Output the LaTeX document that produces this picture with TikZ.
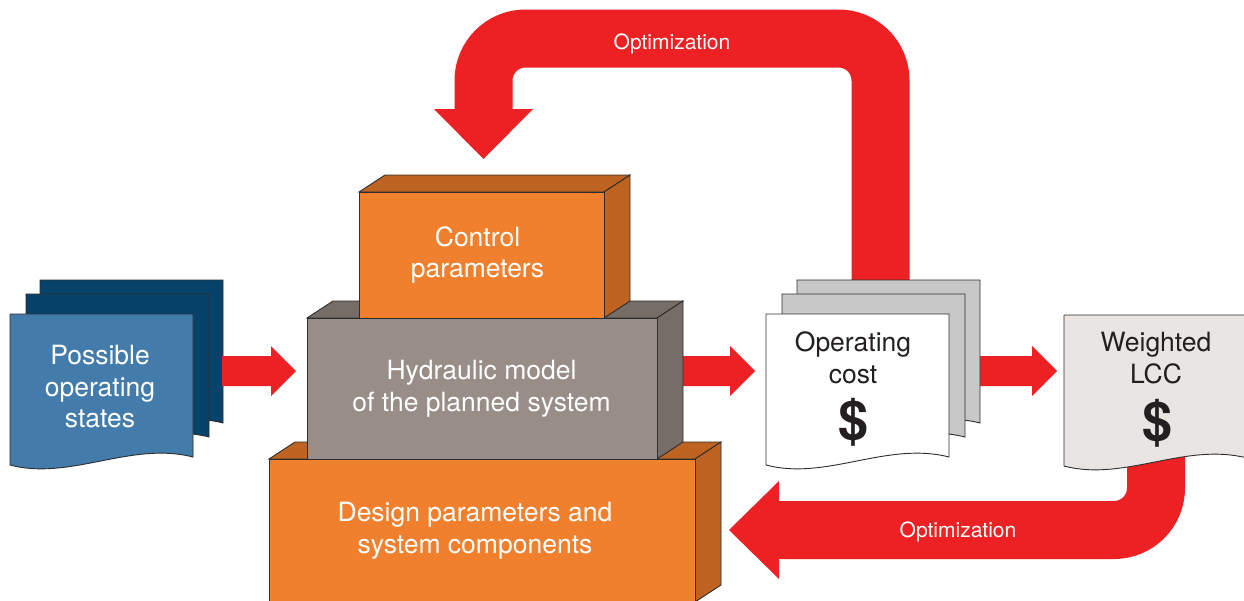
\documentclass[tikz,border=0pt]{standalone}
\usepackage{fontspec}
\setmainfont{TeX Gyre Heros}
\usetikzlibrary{calc}

\definecolor{arrowred}{HTML}{ED2024}
\definecolor{orangefront}{HTML}{F0802D}
\definecolor{orangeside}{HTML}{BE6322}
\definecolor{grayfront}{HTML}{988E87}
\definecolor{grayside}{HTML}{766D67}
\definecolor{bluefront}{HTML}{437BAA}
\definecolor{blueback}{HTML}{07426A}
\definecolor{sheetgray}{HTML}{C8C8C9}
\definecolor{lccsheet}{HTML}{E8E5E3}
\definecolor{edge}{HTML}{2E2E2E}
\definecolor{ink}{HTML}{231F20}

% 3-D block: front face (x1,y1)-(x2,y2), top and side faces set back by (26,-17)
\newcommand\solidblock[6]{%
  \filldraw[fill=#6, blockedge] (#1,#2) -- (#1+26,#2-17) -- (#3+26,#2-17) -- (#3,#2) -- cycle;
  \filldraw[fill=#6, blockedge] (#3,#2) -- (#3+26,#2-17) -- (#3+26,#4-17) -- (#3,#4) -- cycle;
  \filldraw[fill=#5, blockedge] (#1,#2) rectangle (#3,#4);}

% sheet of paper with a wavy lower edge, top left corner at (x,y)
\newcommand\docsheet[3]{%
  \filldraw[fill=#3, sheetedge] (#1,#2) -- (#1+183,#2) -- (#1+183,#2+143)
    .. controls (#1+121,#2+127) and (#1+60,#2+167) .. (#1,#2+151) -- cycle;}

% broad red arrow pointing right, from one named coordinate to another
\newcommand\blockarrow[2]{%
  \fill[arrowred] let \p1=(#1), \p2=(#2) in
    (\x1,\y1+15pt) -- (\x2-25pt,\y1+15pt) -- (\x2-25pt,\y1+25pt) -- (\x2,\y1)
    -- (\x2-25pt,\y1-25pt) -- (\x2-25pt,\y1-15pt) -- (\x1,\y1-15pt) -- cycle;}

\begin{document}
\begin{tikzpicture}[x=1pt,y=-1pt,
    blockedge/.style={draw=edge, line width=0.9pt, line join=miter},
    sheetedge/.style={draw=edge, line width=0.9pt},
    loopband/.style={draw=arrowred, line width=58pt, rounded corners=42pt},
    lbl/.style={font=\fontsize{26.5}{31.5}\selectfont, align=center, anchor=base, inner sep=0pt},
    dollar/.style={font=\fontsize{54}{54}\selectfont\bfseries, text=ink, inner sep=0pt},
    opt/.style={font=\fontsize{21}{25}\selectfont, text=white, anchor=base, inner sep=0pt}]
\useasboundingbox (0,0) rectangle (1244,600);
\clip (0,0) rectangle (1244,600);

% connector end points
\coordinate (ltA) at (880.5,290);
\coordinate (ltB) at (483.5,111);
\coordinate (lbA) at (1156,450);
\coordinate (lbB) at (777,530);
\coordinate (a1s) at (222,371);
\coordinate (a1e) at (296,371);
\coordinate (a2s) at (683,371);
\coordinate (a2e) at (755,371);
\coordinate (a3s) at (980,371);
\coordinate (a3e) at (1057,371);

% optimization loop from operating cost back to the control parameters
\draw[loopband] (ltA) -- ++(0,-251.5) -| (ltB);
\fill[arrowred] ($(ltB)+(-49.5,-2)$) -- ($(ltB)+(49.5,-2)$) -- ($(ltB)+(0,48)$) -- cycle;

% optimization loop from weighted LCC back to the design parameters
\draw[loopband] (lbA) |- (lbB);
\fill[arrowred] ($(lbB)+(2,-49)$) -- ($(lbB)+(2,49)$) -- ($(lbB)+(-48,0)$) -- cycle;

% operating states
\docsheet{40}{280}{blueback}
\docsheet{26}{294}{blueback}
\docsheet{10}{314}{bluefront}

\blockarrow{a1s}{a1e}
\blockarrow{a2s}{a2e}
\blockarrow{a3s}{a3e}

% stacked model blocks
\solidblock{269}{459}{695}{602}{orangefront}{orangeside}
\solidblock{307}{318}{657}{459}{grayfront}{grayside}
\solidblock{359}{192}{604}{318}{orangefront}{orangeside}

% operating cost sheets
\docsheet{797}{280}{sheetgray}
\docsheet{782}{294}{sheetgray}
\docsheet{766}{314}{white}

% weighted LCC sheet
\docsheet{1064}{315}{lccsheet}

% labels (anchored at the baseline of their last line)
\node[lbl, text=white] (states) at (100,427.5) {Possible\\operating\\states};
\node[lbl, text=white] (ctrl) at (477.5,277.5) {Control\\parameters};
\node[lbl, text=white] (hyd) at (481.5,411) {Hydraulic model\\of the planned system};
\node[lbl, text=white] (design) at (475,553) {Design parameters and\\system components};
\node[lbl, text=ink] (opcost) at (853,383) {Operating\\cost};
\node[dollar] (opdollar) at (853,422) {\$};
\node[lbl, text=ink] (lcc) at (1156,383) {Weighted\\LCC};
\node[dollar] (lccdollar) at (1157,423) {\$};
\node[opt] (opttop) at (672,49) {Optimization};
\node[opt] (optbottom) at (958,537) {Optimization};
\end{tikzpicture}
\end{document}
